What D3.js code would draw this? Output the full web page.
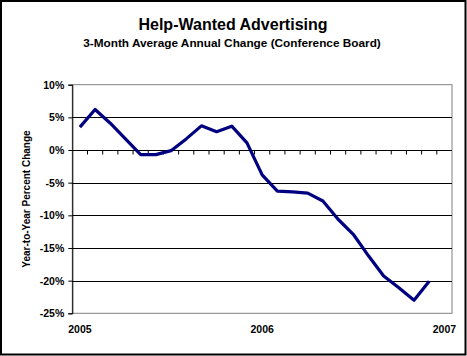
<!DOCTYPE html>
<html><head><meta charset="utf-8">
<script src="https://cdn.jsdelivr.net/npm/d3@7"></script>
<style>body{margin:0;background:#fff}svg{display:block}</style>
</head><body>
<script>
const months = ["2005-01","2005-02","2005-03","2005-04","2005-05","2005-06","2005-07","2005-08","2005-09","2005-10","2005-11","2005-12",
"2006-01","2006-02","2006-03","2006-04","2006-05","2006-06","2006-07","2006-08","2006-09","2006-10","2006-11","2006-12","2007-01"];
const values = [3.5,6.2,4.1,1.7,-0.7,-0.7,-0.1,1.7,3.7,2.8,3.65,1.1,-3.8,-6.3,-6.4,-6.6,-7.8,-10.6,-12.9,-16.2,-19.3,-21.1,-23.0,-20.1];
const yTicks = [10,5,0,-5,-10,-15,-20,-25];
const xLabels = {"2005-01":"2005","2006-01":"2006","2007-01":"2007"};

const W=467,H=356;
const m={l:72.3,r:452,t:84.7,b:313.3};
const svg=d3.select("body").append("svg").attr("width",W).attr("height",H);
svg.append("rect").attr("x",1).attr("y",1).attr("width",464.5).attr("height",353.5)
  .attr("fill","#fff").attr("stroke","#000").attr("stroke-width",2);

const x=d3.scaleBand().domain(months).range([m.l,m.r]);
const y=d3.scaleLinear().domain([-25,10]).range([m.b,m.t]);

// plot border
svg.append("rect").attr("x",m.l).attr("y",m.t).attr("width",m.r-m.l).attr("height",m.b-m.t)
  .attr("fill","none").attr("stroke","#808080").attr("stroke-width",1);

// gridlines
svg.append("g").selectAll("line").data(yTicks.filter(v=>v!==10 && v!==-25)).join("line")
  .attr("x1",m.l).attr("x2",m.r).attr("y1",d=>Math.round(y(d))+0.5).attr("y2",d=>Math.round(y(d))+0.5)
  .attr("stroke","#000").attr("stroke-width",1);

// y axis
const yAxis=d3.axisLeft(y).tickValues(yTicks).tickFormat(d=>d+"%").tickSize(4).tickPadding(4);
const ga=svg.append("g").attr("transform",`translate(${m.l},0)`).call(yAxis);
ga.select(".domain").attr("stroke","#000");
ga.selectAll("text").attr("font-family","Arial, 'Liberation Sans', sans-serif").attr("font-size",10.5).attr("font-weight","bold").attr("fill","#000");

// x axis at 0
const xAxis=d3.axisBottom(x).tickSize(0).tickFormat(()=>"");
const gx=svg.append("g").attr("transform",`translate(0,${Math.round(y(0))+0.5})`).call(xAxis);
gx.select(".domain").remove();
gx.append("g").selectAll("line").data(months.slice(1)).join("line")
  .attr("x1",d=>x(d)).attr("x2",d=>x(d)).attr("y1",0).attr("y2",4).attr("stroke","#000");

// x labels
svg.append("g").selectAll("text").data(months.filter(d=>xLabels[d])).join("text")
  .attr("x",d=>x(d)+x.bandwidth()/2).attr("y",333)
  .attr("text-anchor","middle").attr("font-family","Arial, 'Liberation Sans', sans-serif")
  .attr("font-size",10.5).attr("font-weight","bold").text(d=>xLabels[d]);

// line
const line=d3.line().x((d,i)=>x(months[i])+x.bandwidth()/2).y(d=>y(d));
svg.append("path").datum(values).attr("d",line).attr("fill","none")
  .attr("stroke","#000080").attr("stroke-width",3.2).attr("stroke-linejoin","round");

// titles
svg.append("text").attr("x",233).attr("y",30).attr("text-anchor","middle")
  .attr("font-family","Arial, 'Liberation Sans', sans-serif").attr("font-size",16).attr("font-weight","bold").text("Help-Wanted Advertising");
svg.append("text").attr("x",232).attr("y",47).attr("text-anchor","middle")
  .attr("font-family","Arial, 'Liberation Sans', sans-serif").attr("font-size",11.8).attr("font-weight","bold")
  .text("3-Month Average Annual Change (Conference Board)");
svg.append("text").attr("transform",`translate(30,${(m.t+m.b)/2}) rotate(-90)`).attr("text-anchor","middle")
  .attr("font-family","Arial, 'Liberation Sans', sans-serif").attr("font-size",10).attr("font-weight","bold")
  .text("Year-to-Year Percent Change");
</script>
</body></html>
